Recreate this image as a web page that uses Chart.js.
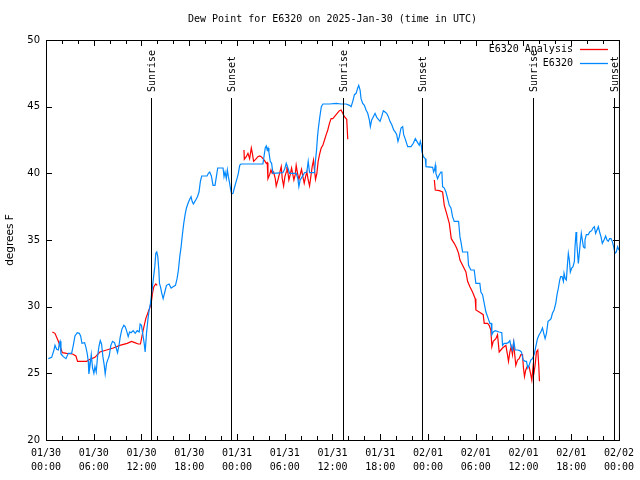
<!DOCTYPE html>
<html><head><meta charset="utf-8">
<script src="https://cdn.jsdelivr.net/npm/chart.js@4/dist/chart.umd.min.js"></script>
<style>html,body{margin:0;padding:0;background:#fff}#wrap{width:640px;height:480px}</style>
</head><body><div id="wrap"><canvas id="c" width="640" height="480"></canvas></div>
<script>
const titleText = 'Dew Point for E6320 on 2025-Jan-30 (time in UTC)';
const yAxisLabel = 'degrees F';
const seriesNames = ['E6320 Analysis', 'E6320'];
const seriesColors = ['#ff0000', '#0088ff'];
const tickDates = ['01/30','01/30','01/30','01/30','01/31','01/31','01/31','01/31','02/01','02/01','02/01','02/01','02/02'];
const tickTimes = ['00:00','06:00','12:00','18:00','00:00','06:00','12:00','18:00','00:00','06:00','12:00','18:00','00:00'];
const eventHours = [13.17, 23.22, 37.27, 47.3, 61.2, 71.4];
const eventNames = ['Sunrise','Sunset','Sunrise','Sunset','Sunrise','Sunset'];

// E6320 observations: hours since 01/30 00:00 UTC, dew point (F)
const obsHours = [0.29,0.71,1.0,1.13,1.34,1.55,1.67,1.76,1.88,2.17,2.51,2.8,3.22,3.43,3.64,3.93,4.18,4.35,4.52,4.85,5.02,5.19,5.31,5.39,5.52,5.69,5.85,6.02,6.15,6.31,6.48,6.65,6.82,6.98,7.15,7.32,7.44,7.61,7.78,7.94,8.15,8.36,8.61,8.82,8.99,9.16,9.32,9.53,9.78,9.95,10.12,10.33,10.5,10.7,10.95,11.21,11.46,11.71,11.83,12.0,12.17,12.34,12.46,12.63,12.8,12.96,13.13,
13.38,13.55,13.67,13.8,13.92,14.05,14.18,14.26,14.38,14.55,14.72,14.93,15.14,15.47,15.72,15.97,16.27,16.47,16.64,16.81,16.98,17.14,17.31,17.48,17.65,17.85,18.06,18.23,18.36,18.52,18.77,19.03,19.23,19.4,19.57,20.24,20.41,20.57,20.78,20.99,21.24,21.41,21.58,22.25,22.37,22.5,22.66,22.79,22.92,23.08,23.21,23.33,23.5,23.67,23.83,24.0,24.17,24.34,24.5,
27.26,27.55,27.68,27.8,27.9,28.01,28.18,28.35,28.52,29.77,29.98,30.19,30.4,30.61,31.44,31.65,31.78,31.94,32.2,32.49,32.78,32.95,33.12,33.74,33.87,34.0,34.12,34.2,34.4,34.6,34.8,
35.62,36.46,37.08,37.71,38.13,38.34,38.55,38.76,38.97,39.17,39.3,39.47,39.59,39.8,40.01,40.22,40.43,40.64,40.76,40.93,41.14,41.35,41.56,41.77,41.98,42.18,42.39,42.6,42.81,43.02,43.23,43.48,43.69,43.9,44.07,44.23,44.4,
44.61,44.82,44.95,45.16,45.45,45.87,46.16,46.41,46.7,46.91,47.04,47.16,47.25,47.42,47.67,47.75,48.59,48.71,48.84,48.92,49.0,49.21,49.42,49.63,49.75,49.84,50.05,50.26,50.47,50.68,50.89,51.09,51.3,51.85,52.02,52.18,52.35,52.98,53.1,53.39,53.81,
54.02,54.52,54.65,54.86,55.07,55.28,55.49,55.78,55.95,56.03,56.2,56.45,56.95,57.28,57.37,57.58,57.87,58.08,58.29,58.41,58.62,58.79,58.96,59.25,59.54,59.75,59.96,60.21,60.38,60.55,60.71,60.92,61.13,61.34,61.55,61.76,61.97,62.18,62.39,62.59,62.72,62.89,63.09,63.3,63.47,63.64,63.85,64.06,64.22,64.39,64.56,64.68,64.85,65.02,65.1,65.25,65.39,65.52,65.64,65.77,65.89,66.06,66.23,66.4,66.48,66.61,66.69,66.81,66.9,66.98,67.11,67.27,67.4,67.53,67.65,67.73,67.9,68.15,68.32,68.57,68.74,68.91,69.07,69.24,69.41,69.57,69.74,69.91,70.12,70.33,70.49,70.66,70.83,71.0,71.16,71.33,71.5,71.67,71.83,72.0];
const obsValues = [26.1,26.2,26.75,27.1,26.8,26.75,27.25,27.4,26.45,26.25,26.1,26.5,26.5,27.1,27.8,28.05,28.0,27.8,27.25,27.3,26.95,26.45,25.9,24.95,25.5,26.4,25.4,25.0,25.5,25.1,26.25,27.0,27.45,27.2,26.25,25.6,24.95,25.75,26.05,26.3,27.1,27.4,27.3,26.9,26.55,27.05,27.7,28.3,28.6,28.5,28.2,27.75,28.1,28.05,28.2,28.0,28.2,28.1,28.7,28.6,27.9,27.25,26.6,28.0,29.0,29.75,30.25,
31.5,32.4,33.0,34.0,34.1,33.75,32.75,31.75,31.5,31.0,30.6,31.1,31.6,31.7,31.4,31.5,31.6,32.1,32.75,33.75,34.5,35.4,36.25,36.9,37.4,37.75,38.05,38.25,37.9,37.7,37.95,38.25,38.6,39.4,39.8,39.8,40.0,40.1,39.8,39.1,39.1,39.75,40.4,40.4,39.75,40.1,39.6,40.25,39.75,39.25,38.75,38.45,38.5,38.9,39.25,39.6,40.0,40.6,40.7,
40.7,41.9,42.05,41.75,41.9,41.6,40.9,40.75,40.0,40.05,40.3,40.75,40.4,40.0,40.0,39.6,39.0,39.5,39.75,40.05,40.1,40.9,40.05,40.05,41.0,41.75,42.75,43.25,44.2,45.0,45.2,
45.2,45.25,45.2,45.2,45.1,45.0,45.4,45.9,46.0,46.4,46.6,46.25,45.6,45.25,45.1,44.75,44.5,44.0,43.5,44.0,44.25,44.5,44.2,44.05,43.9,44.25,44.7,44.6,44.5,44.25,43.9,43.6,43.25,43.1,42.9,42.4,42.75,
43.4,43.5,42.9,42.55,42.0,42.0,42.25,42.6,42.3,42.1,42.4,42.1,41.6,41.25,41.1,40.5,40.45,40.1,40.3,40.6,40.0,39.6,39.9,40.1,40.1,39.0,38.9,38.6,38.1,37.6,37.4,36.75,36.4,36.4,35.25,34.75,34.1,34.1,33.1,32.75,32.75,
31.75,31.75,31.1,30.9,30.25,29.6,29.25,28.75,28.75,27.9,28.1,28.2,28.1,28.05,27.1,27.25,27.25,27.3,27.45,27.1,26.75,27.4,26.75,26.75,26.7,26.6,26.0,25.9,25.9,25.4,25.6,26.0,26.1,26.4,27.0,27.6,27.9,28.1,28.4,27.9,27.6,28.0,28.9,29.0,29.1,29.5,29.75,30.25,30.9,31.4,32.0,32.25,32.25,31.9,32.5,32.1,32.0,33.1,34.0,33.5,32.6,32.9,33.0,33.4,34.5,35.6,34.9,33.9,33.25,33.75,34.6,35.5,35.0,34.5,34.4,35.0,35.4,35.4,35.6,35.7,35.9,36.0,35.5,35.75,36.0,35.6,35.25,34.75,35.0,35.3,35.0,34.9,35.1,35.1,34.9,34.5,34.0,34.1,34.5,34.25];

// E6320 Analysis: null marks a gap between analysis runs
const anaHours = [0.79,1.13,1.55,2.05,2.59,3.34,3.76,3.97,5.1,5.52,6.15,6.77,7.61,8.45,9.28,10.2,10.75,11.16,11.58,11.87,12.21,12.54,12.84,13.04,13.25,13.38,13.55,13.8,13.97,
18.0,
24.88,24.92,25.17,25.38,25.59,25.8,25.93,26.09,26.34,26.63,26.84,27.05,27.26,27.47,27.68,27.8,27.89,28.1,28.27,28.43,28.6,28.81,28.93,29.14,29.35,29.56,29.69,29.86,30.02,30.19,30.27,30.4,30.52,30.69,30.86,31.02,31.15,31.32,31.44,31.61,31.78,31.94,32.11,32.28,32.45,32.62,32.78,32.95,33.12,33.28,33.45,33.62,33.74,33.87,34.04,34.2,34.37,34.58,34.79,35.0,35.21,35.41,35.62,35.83,36.04,36.25,36.46,36.87,37.08,37.29,37.5,37.79,37.92,
43.0,
48.8,48.92,49.42,49.84,50.05,50.34,50.68,50.93,51.3,51.6,51.85,52.02,52.35,52.77,52.98,53.27,53.6,53.94,54.02,54.44,54.94,55.07,55.49,55.69,55.9,56.03,56.2,56.53,56.74,56.95,57.37,57.79,57.99,58.12,58.29,58.45,58.62,58.75,58.87,59.04,59.25,59.46,59.67,59.88,60.0,60.13,60.29,60.5,60.71,60.92,61.05,61.21,61.34,61.46,61.63,61.8,61.93,62.01];
const anaValues = [28.1,28.0,27.4,26.55,26.5,26.45,26.3,25.9,25.9,26.05,26.2,26.6,26.75,26.9,27.1,27.25,27.4,27.3,27.2,27.2,28.25,29.1,29.6,29.9,30.4,31.0,31.5,31.7,31.6,
null,
41.75,41.05,41.25,41.5,41.1,41.9,41.5,40.9,41.05,41.25,41.3,41.25,41.1,40.95,40.75,40.8,39.6,39.9,40.25,40.0,40.1,39.6,39.05,39.5,40.0,40.5,39.6,39.05,39.75,40.1,40.5,40.1,39.5,39.9,40.4,39.9,39.5,39.9,40.6,40.0,39.55,39.9,40.3,39.75,39.25,39.75,40.1,39.5,39.05,39.75,40.5,41.0,40.25,39.55,40.0,40.9,41.4,41.9,42.1,42.5,42.9,43.25,43.75,44.1,44.1,44.25,44.4,44.7,44.75,44.5,44.25,44.05,42.55,
null,
39.5,38.75,38.7,38.6,37.6,37.0,36.25,35.1,34.75,34.4,34.0,33.5,33.1,32.6,31.9,31.5,31.1,30.6,29.75,29.6,29.4,28.75,28.75,28.6,28.25,27.0,27.4,27.6,27.9,26.6,26.9,27.1,26.4,25.9,26.6,27.0,26.4,27.25,26.6,25.6,26.0,26.1,26.4,26.4,25.4,24.75,25.25,25.55,25.5,24.9,24.5,25.5,25.1,25.6,26.6,26.75,25.5,24.4];

const X_MIN = 0, X_MAX = 72, X_MAJOR = 6, X_MINOR = 2;
const Y_MIN = 20, Y_MAX = 50, Y_STEP = 5;

const monoFont = '"DejaVu Sans Mono", monospace';
const sansFont = '"DejaVu Sans", sans-serif';

const decor = {
  id: 'decor',
  afterDatasetsDraw(chart) {
    const { ctx, chartArea: a, scales: { x, y } } = chart;
    ctx.save();
    ctx.strokeStyle = '#000';
    ctx.fillStyle = '#000';
    ctx.lineWidth = 1;
    // frame
    ctx.strokeRect(a.left + 0.5, a.top + 0.5, a.right - a.left, a.bottom - a.top);
    // x ticks (inward, top and bottom)
    for (let h = X_MIN; h <= X_MAX + 1e-9; h += X_MINOR) {
      const px = Math.round(x.getPixelForValue(h)) + 0.5;
      const len = (Math.abs(h % X_MAJOR) < 1e-9) ? 6 : 4;
      ctx.beginPath();
      ctx.moveTo(px, a.bottom); ctx.lineTo(px, a.bottom - len);
      ctx.moveTo(px, a.top); ctx.lineTo(px, a.top + len);
      ctx.stroke();
    }
    // y ticks (inward, left and right)
    for (let v = Y_MIN; v <= Y_MAX; v += Y_STEP) {
      const py = Math.round(y.getPixelForValue(v)) + 0.5;
      ctx.beginPath();
      ctx.moveTo(a.left, py); ctx.lineTo(a.left + 6, py);
      ctx.moveTo(a.right, py); ctx.lineTo(a.right - 6, py);
      ctx.stroke();
    }
    // sunrise / sunset lines and labels
    ctx.font = '10px ' + monoFont;
    eventHours.forEach((h, i) => {
      const px = Math.round(x.getPixelForValue(h)) + 0.5;
      ctx.beginPath();
      ctx.moveTo(px, a.top + 58); ctx.lineTo(px, a.bottom);
      ctx.stroke();
      ctx.save();
      ctx.translate(px + 1, a.top + 52);
      ctx.rotate(-Math.PI / 2);
      ctx.textAlign = 'left';
      ctx.textBaseline = 'middle';
      ctx.fillText(eventNames[i], 0, 0);
      ctx.restore();
    });
    // legend
    const order = [0, 1];
    order.forEach((k, row) => {
      const yy = a.top + 9 + row * 14;
      ctx.textAlign = 'right';
      ctx.textBaseline = 'middle';
      ctx.fillStyle = '#000';
      ctx.fillText(seriesNames[k], a.right - 46, yy);
      ctx.strokeStyle = seriesColors[k];
      ctx.lineWidth = 1.3;
      ctx.beginPath();
      ctx.moveTo(a.right - 39, Math.round(yy) + 0.5);
      ctx.lineTo(a.right - 11, Math.round(yy) + 0.5);
      ctx.stroke();
    });
    ctx.restore();
  }
};

new Chart(document.getElementById('c'), {
  type: 'line',
  data: {
    datasets: [
      {
        label: seriesNames[1],
        data: obsHours.map((h, i) => ({ x: h, y: obsValues[i] })),
        borderColor: seriesColors[1],
        borderWidth: 1.2,
        pointRadius: 0,
        tension: 0,
        order: 0
      },
      {
        label: seriesNames[0],
        data: anaHours.map((h, i) => ({ x: h, y: anaValues[i] })),
        borderColor: seriesColors[0],
        borderWidth: 1.2,
        pointRadius: 0,
        tension: 0,
        spanGaps: false,
        order: 1
      }
    ]
  },
  options: {
    responsive: false,
    animation: false,
    layout: { padding: { left: 0, right: 20, top: 0, bottom: 0 } },
    plugins: {
      legend: { display: false },
      tooltip: { enabled: false },
      title: {
        display: true,
        text: titleText,
        fullSize: false,
        color: '#000',
        font: { family: monoFont, size: 10, weight: 'normal', lineHeight: 1.2 },
        padding: { top: 13, bottom: 15 }
      }
    },
    scales: {
      x: {
        type: 'linear',
        min: X_MIN, max: X_MAX,
        grid: { display: false, drawTicks: false },
        border: { display: false },
        afterFit(s) { s.height = 40; },
        afterBuildTicks(s) {
          s.ticks = tickDates.map((d, i) => ({ value: X_MIN + i * X_MAJOR }));
        },
        ticks: {
          autoSkip: false,
          maxRotation: 0,
          padding: 6,
          color: '#000',
          font: { family: monoFont, size: 10, lineHeight: 1.4 },
          callback(v) {
            const i = Math.round((v - X_MIN) / X_MAJOR);
            return [tickDates[i], tickTimes[i]];
          }
        }
      },
      y: {
        min: Y_MIN, max: Y_MAX,
        grid: { display: false, drawTicks: false },
        border: { display: false },
        afterFit(s) { s.width = 46; },
        ticks: {
          stepSize: Y_STEP,
          padding: 6,
          color: '#000',
          font: { family: sansFont, size: 10 }
        },
        title: {
          display: true,
          text: yAxisLabel,
          color: '#000',
          font: { family: sansFont, size: 10.5, lineHeight: 1.2 },
          padding: { top: 4, bottom: 0 }
        }
      }
    }
  },
  plugins: [decor]
});
</script>
</body></html>
